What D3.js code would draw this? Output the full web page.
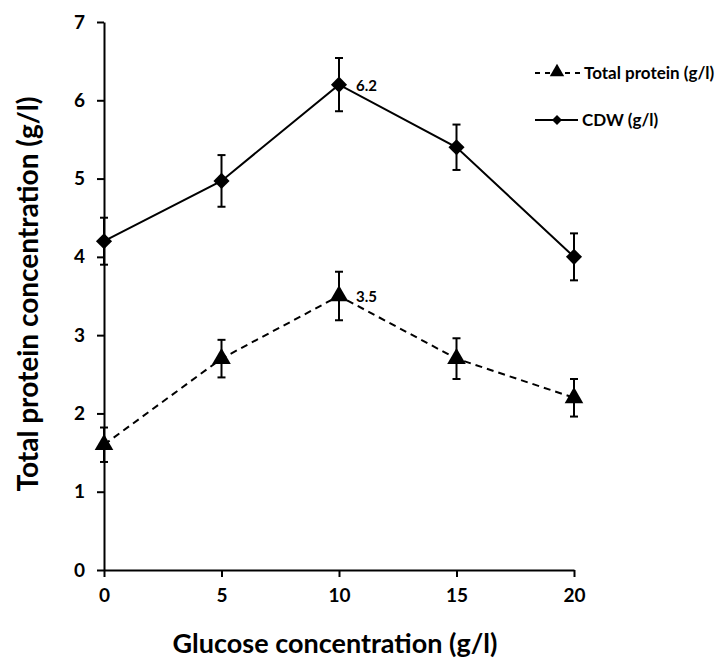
<!DOCTYPE html>
<html lang="en">
<head>
<meta charset="utf-8">
<title>Glucose vs protein</title>
<script src="https://d3js.org/d3.v7.min.js"></script>
<style>
  body { margin: 0; background: #fff; }
  text { font-family: Lato, "Open Sans", sans-serif; font-weight: bold; fill: #000; }
</style>
</head>
<body>
<div id="chart"></div>
<script>
// data
var glucose = [0, 5, 10, 15, 20];
var cdw = [4.2, 4.97, 6.2, 5.4, 4.0];
var cdwErr = [0.3, 0.33, 0.34, 0.29, 0.3];
var protein = [1.6, 2.7, 3.5, 2.7, 2.2];
var proteinErr = [0.22, 0.24, 0.31, 0.26, 0.24];
var yTicks = [0, 1, 2, 3, 4, 5, 6, 7];
var xTicks = [0, 5, 10, 15, 20];
var seriesNames = ['Total protein (g/l)', 'CDW (g/l)'];

var w = 728, h = 661;
var svg = d3.select('#chart').append('svg').attr('width', w).attr('height', h);

var x = d3.scaleLinear().domain([0, 20]).range([104, 574]);
var y = d3.scaleLinear().domain([0, 7]).range([570, 22]);

// axes
var xAxis = svg.append('g').attr('transform', 'translate(0,570)')
  .call(d3.axisBottom(x).tickValues(xTicks).tickFormat(d3.format('d')).tickSize(7).tickSizeOuter(0).tickPadding(12));
var yAxis = svg.append('g').attr('transform', 'translate(104,0)')
  .call(d3.axisLeft(y).tickValues(yTicks).tickFormat(d3.format('d')).tickSize(7).tickSizeOuter(0).tickPadding(12));
[xAxis, yAxis].forEach(function(a) {
  a.select('.domain').attr('stroke', '#000').attr('stroke-width', 2);
  a.selectAll('.tick line').attr('stroke', '#000').attr('stroke-width', 2);
  a.selectAll('.tick text').style('font-size', '19px').style('font-family', 'Lato, sans-serif').style('font-weight', 'bold');
});

// axis titles
svg.append('text').attr('x', 335).attr('y', 653).attr('text-anchor', 'middle')
  .style('font-size', '27px').text('Glucose concentration (g/l)');
svg.append('text').attr('transform', 'translate(38,294) rotate(-90)').attr('text-anchor', 'middle')
  .style('font-size', '28px').text('Total protein concentration (g/l)');

var diamond = d3.symbol().type(d3.symbolSquare).size(130);

var series = [
  { vals: protein, err: proteinErr, dash: '7,5', path: d3.symbol().type(d3.symbolTriangle).size(150), rot: 0 },
  { vals: cdw, err: cdwErr, dash: null, path: diamond, rot: 45 }
];

series.forEach(function(s) {
  var pts = glucose.map(function(g, i) { return { x: g, y: s.vals[i], e: s.err[i] }; });
  // error bars
  var eb = svg.append('g').attr('stroke', '#000').attr('stroke-width', 2);
  pts.forEach(function(p) {
    eb.append('line').attr('x1', x(p.x)).attr('x2', x(p.x)).attr('y1', y(p.y - p.e)).attr('y2', y(p.y + p.e));
    [p.y - p.e, p.y + p.e].forEach(function(v) {
      eb.append('line').attr('x1', x(p.x) - 4).attr('x2', x(p.x) + 4).attr('y1', y(v)).attr('y2', y(v));
    });
  });
  // line
  svg.append('path').datum(pts)
    .attr('fill', 'none').attr('stroke', '#000').attr('stroke-width', 2)
    .attr('stroke-dasharray', s.dash)
    .attr('d', d3.line().x(function(d) { return x(d.x); }).y(function(d) { return y(d.y); }));
  // markers
  svg.selectAll(null).data(pts).enter().append('path')
    .attr('transform', function(d) { return 'translate(' + x(d.x) + ',' + y(d.y) + ') rotate(' + s.rot + ')'; })
    .attr('d', s.path())
    .attr('fill', '#000');
});

// peak labels
svg.append('text').attr('x', x(10) + 17).attr('y', y(cdw[2]) + 6).style('font-size', '15px').text(cdw[2]);
svg.append('text').attr('x', x(10) + 17).attr('y', y(protein[2]) + 6).style('font-size', '15px').text(protein[2]);

// legend
var leg = svg.append('g');
leg.append('line').attr('x1', 535).attr('x2', 580).attr('y1', 73).attr('y2', 73)
  .attr('stroke', '#000').attr('stroke-width', 2).attr('stroke-dasharray', '5,5');
leg.append('path').attr('transform', 'translate(557,72)').attr('d', d3.symbol().type(d3.symbolTriangle).size(90)).attr('fill', '#000');
leg.append('text').attr('x', 584).attr('y', 79).style('font-size', '17px').text(seriesNames[0]);
leg.append('line').attr('x1', 535).attr('x2', 578).attr('y1', 120).attr('y2', 120)
  .attr('stroke', '#000').attr('stroke-width', 2);
leg.append('path').attr('transform', 'translate(557,120) rotate(45)').attr('d', d3.symbol().type(d3.symbolSquare).size(50)).attr('fill', '#000');
leg.append('text').attr('x', 582).attr('y', 126).style('font-size', '17px').text(seriesNames[1]);
</script>
</body>
</html>
